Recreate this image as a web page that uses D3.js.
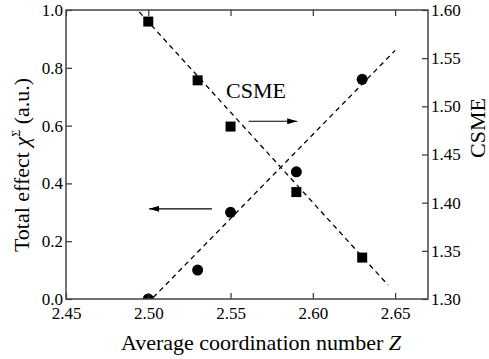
<!DOCTYPE html>
<html>
<head>
<meta charset="utf-8">
<script src="https://cdn.jsdelivr.net/npm/d3@7"></script>
<style>
body { margin: 0; background: #fff; }
</style>
</head>
<body>
<svg width="489" height="359"></svg>
<script>
// data
var zValues = [2.50, 2.53, 2.55, 2.59, 2.63];
var totalEffect = [0.00, 0.10, 0.30, 0.44, 0.76];   // circles, left axis
var csme = [1.588, 1.527, 1.479, 1.411, 1.343];     // squares, right axis
var effectFit = [[2.503, 0.005], [2.65, 0.86]];
var csmeFit = [[2.4945, 1.598], [2.6457, 1.3145]];
var xTicks = [2.45, 2.50, 2.55, 2.60, 2.65];
var yTicks = [0.0, 0.2, 0.4, 0.6, 0.8, 1.0];
var y2Ticks = [1.30, 1.35, 1.40, 1.45, 1.50, 1.55, 1.60];

var FONT = "Liberation Serif";

var svg = d3.select("svg"),
  width = +svg.attr("width"),
  height = +svg.attr("height");
var margin = {top: 10, right: 61, bottom: 60, left: 66};
var w = width - margin.left - margin.right,
  h = height - margin.top - margin.bottom;

var x = d3.scaleLinear().domain([2.45, 2.67]).range([0, w]);
var y = d3.scaleLinear().domain([0, 1]).range([h, 0]);
var y2 = d3.scaleLinear().domain([1.30, 1.60]).range([h, 0]);

var g = svg.append("g").attr("transform", "translate(" + margin.left + "," + margin.top + ")");

var defs = svg.append("defs");
defs.append("clipPath").attr("id", "clip")
  .append("rect").attr("width", w).attr("height", h);

var plot = g.append("g").attr("clip-path", "url(#clip)");

// fitted dashed lines
var line = d3.line().x(function (d) { return x(d[0]) });
plot.append("path")
  .datum(effectFit)
  .attr("d", line.y(function (d) { return y(d[1]) }))
  .attr("fill", "none").attr("stroke", "#000").attr("stroke-width", 1.3)
  .attr("stroke-dasharray", "5,4");
plot.append("path")
  .datum(csmeFit)
  .attr("d", line.y(function (d) { return y2(d[1]) }))
  .attr("fill", "none").attr("stroke", "#000").attr("stroke-width", 1.3)
  .attr("stroke-dasharray", "5,4");

// markers
plot.selectAll("circle.effect")
  .data(zValues)
  .enter().append("circle")
  .attr("class", "effect")
  .attr("cx", function (d) { return x(d) })
  .attr("cy", function (d, i) { return y(totalEffect[i]) })
  .attr("r", 5.5)
  .attr("fill", "#000");
plot.selectAll("rect.csme")
  .data(zValues)
  .enter().append("rect")
  .attr("class", "csme")
  .attr("x", function (d) { return x(d) - 5 })
  .attr("y", function (d, i) { return y2(csme[i]) - 5 })
  .attr("width", 10).attr("height", 10)
  .attr("fill", "#000");

// axes, ticks inward
function styleAxis(sel) {
  sel.attr("font-family", null).attr("font-size", null);
  sel.select(".domain").remove();
  sel.selectAll(".tick line").attr("stroke", "#333").attr("stroke-width", 1.2);
  sel.selectAll(".tick text")
    .attr("font-family", FONT)
    .attr("font-size", 17)
    .style("font-family", FONT);
}
g.append("g").attr("transform", "translate(0," + h + ")")
  .call(d3.axisBottom(x).tickValues(xTicks).tickFormat(d3.format(".2f")).tickSizeInner(-6).tickSizeOuter(0).tickPadding(8))
  .call(styleAxis);
g.append("g")
  .call(d3.axisTop(x).tickValues(xTicks).tickFormat("").tickSizeInner(-6).tickSizeOuter(0))
  .call(styleAxis);
g.append("g")
  .call(d3.axisLeft(y).tickValues(yTicks).tickFormat(d3.format(".1f")).tickSizeInner(-6).tickSizeOuter(0).tickPadding(3))
  .call(styleAxis);
g.append("g").attr("transform", "translate(" + w + ",0)")
  .call(d3.axisRight(y2).tickValues(y2Ticks).tickFormat(d3.format(".2f")).tickSizeInner(-6).tickSizeOuter(0).tickPadding(3))
  .call(styleAxis);

g.append("rect")
  .attr("width", w).attr("height", h)
  .attr("fill", "none").attr("stroke", "#444").attr("stroke-width", 1.5);

// arrows and inline label
defs.append("marker")
  .attr("id", "arrow").attr("viewBox", "0 0 10 6")
  .attr("refX", 10).attr("refY", 3)
  .attr("markerWidth", 10).attr("markerHeight", 6)
  .attr("markerUnits", "userSpaceOnUse")
  .attr("orient", "auto")
  .append("path").attr("d", "M0,0L10,3L0,6Z").attr("fill", "#000");

g.append("line")
  .attr("x1", x(2.561)).attr("x2", x(2.5905))
  .attr("y1", y(0.615)).attr("y2", y(0.615))
  .attr("stroke", "#000").attr("stroke-width", 1.2)
  .attr("marker-end", "url(#arrow)");
g.append("line")
  .attr("x1", x(2.5387)).attr("x2", x(2.5005))
  .attr("y1", y(0.312)).attr("y2", y(0.312))
  .attr("stroke", "#000").attr("stroke-width", 1.2)
  .attr("marker-end", "url(#arrow)");
g.append("text")
  .attr("x", x(2.5655)).attr("y", y(0.695))
  .attr("text-anchor", "middle")
  .attr("font-family", FONT).attr("font-size", 22)
  .text("CSME");

// axis titles
svg.append("text")
  .attr("x", 261).attr("y", 350)
  .attr("text-anchor", "middle")
  .attr("font-family", FONT).attr("font-size", 22)
  .html("Average coordination number <tspan font-style='italic'>Z</tspan>");

svg.append("text")
  .attr("transform", "translate(29,165) rotate(-90)")
  .attr("text-anchor", "middle")
  .attr("font-family", FONT).attr("font-size", 22)
  .html("Total effect <tspan font-style='italic'>χ</tspan><tspan dy='-9' font-size='12'>Σ</tspan><tspan dy='9'> (a.u.)</tspan>");

svg.append("text")
  .attr("transform", "translate(485,128) rotate(-90)")
  .attr("text-anchor", "middle")
  .attr("font-family", FONT).attr("font-size", 22)
  .text("CSME");
</script>
</body>
</html>
